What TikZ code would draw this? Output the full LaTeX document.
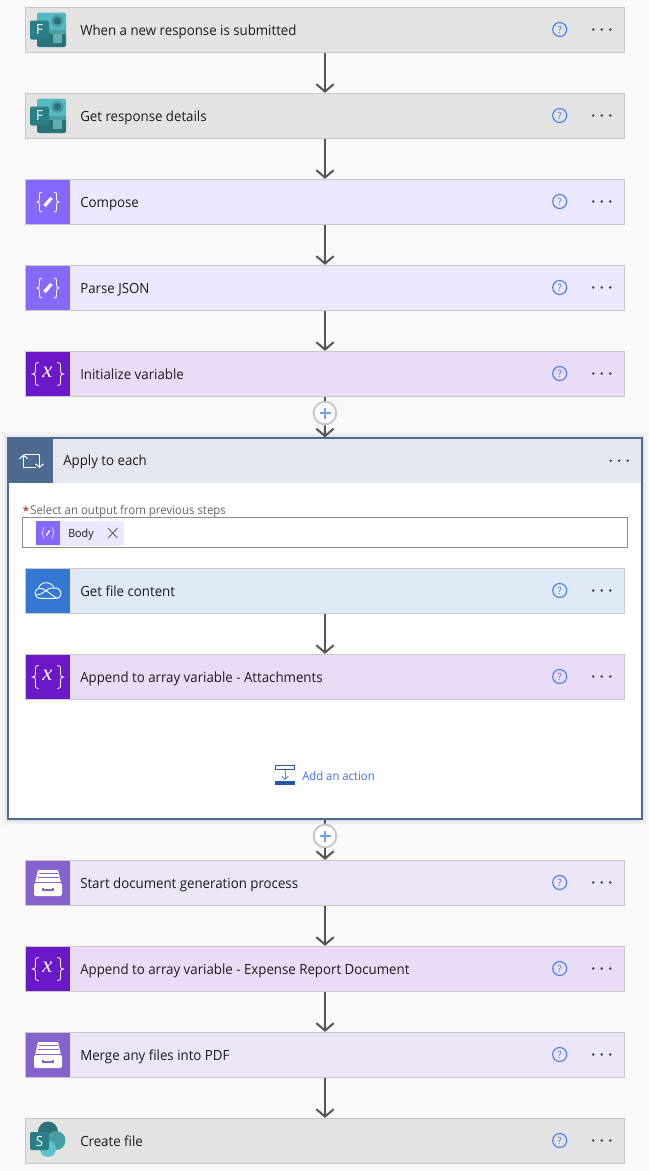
\documentclass[tikz,border=0pt]{standalone}
\usepackage{fontspec}
\setmainfont[FakeStretch=0.95]{Open Sans}
\newfontfamily\iconserif{Liberation Serif}
\usetikzlibrary{arrows.meta}
\definecolor{pagebg}{HTML}{F9F9F9}
\definecolor{cardline}{HTML}{C8C8C8}
\definecolor{flowline}{HTML}{555555}
\definecolor{ink}{HTML}{1B1B1B}
\definecolor{greyfill}{HTML}{E3E3E3}
\definecolor{composefill}{HTML}{ECE8FF}
\definecolor{composeicon}{HTML}{8668FC}
\definecolor{varfill}{HTML}{EADCF6}
\definecolor{varicon}{HTML}{6A18C8}
\definecolor{drivefill}{HTML}{E0E9F6}
\definecolor{driveicon}{HTML}{3478D2}
\definecolor{docfill}{HTML}{ECE5F7}
\definecolor{docicon}{HTML}{8662CC}
\definecolor{loopfill}{HTML}{E4E7ED}
\definecolor{loopblue}{HTML}{4E6A91}
\definecolor{helpblue}{HTML}{3F7BF0}
\definecolor{tealdark}{HTML}{2A7378}
\definecolor{tealmid}{HTML}{4A9DA3}
\definecolor{teallight}{HTML}{5EC4CC}
\definecolor{tealsq}{HTML}{2B8087}
\definecolor{plusblue}{HTML}{6FA0E8}
\definecolor{linkblue}{HTML}{3B70E8}
\definecolor{addblue}{HTML}{2457A8}
\definecolor{addarrow}{HTML}{5B8BD0}
\tikzset{
  x=0.75pt,y=-0.75pt,
  cardbox/.style={draw=cardline,line width=1pt,minimum width=449.25pt,minimum height=33.75pt,inner sep=0pt,rectangle},
  cardtext/.style={anchor=base west,inner sep=0pt,text=ink,font=\fontsize{10.48}{12}\selectfont},
  helpmark/.style={circle,draw=helpblue,line width=0.8pt,minimum size=10.5pt,inner sep=0pt,text=helpblue,font=\fontsize{7.5}{8}\selectfont},
  flow/.style={draw=flowline,line width=1.5pt,-{Straight Barb[length=5.5pt,width=13pt,line width=1.5pt]}},
  flowplain/.style={draw=flowline,line width=1.5pt},
  plusnode/.style={circle,draw=cardline,line width=1.5pt,fill=white,minimum size=17pt,inner sep=0pt},
  whiteline/.style={draw=white,line width=0.7pt,line join=round,line cap=round},
  bracepen/.style={draw=white,line width=0.6pt,line cap=round},
  looparrow/.style={draw=white,line width=0.9pt,-{Straight Barb[length=2.6pt,width=6pt,line width=0.8pt]}},
}
\newcommand{\threedots}[2]{%
  \fill[ink!85] (#1,#2) circle (1pt) (#1+8.5,#2) circle (1pt) (#1+17,#2) circle (1pt);}
% brace: spine x, top y, bottom y, arm (positive opens right, negative opens left)
\newcommand{\bracepath}[4]{%
  \draw[bracepen] (#1+#4,#2) .. controls (#1,#2) and (#1,#2+1) .. (#1,#2+3)
    -- (#1,{(#2+#3)/2-3}) .. controls (#1,{(#2+#3)/2-1}) and (#1-0.3*#4,{(#2+#3)/2}) .. (#1-#4,{(#2+#3)/2})
    .. controls (#1-0.3*#4,{(#2+#3)/2}) and (#1,{(#2+#3)/2+1}) .. (#1,{(#2+#3)/2+3})
    -- (#1,#3-3) .. controls (#1,#3-1) and (#1,#3) .. (#1+#4,#3);}
% icons: local origin at the card's top edge, absolute x
\newcommand{\iconforms}{%
  \fill[teallight!85!tealdark,rounded corners=1.5pt] (37,4.7) rectangle (66,25);
  \fill[tealdark,rounded corners=1.5pt] (37,22) rectangle (66,39);
  \fill[tealmid] (37,22) rectangle (66,26);
  \fill[tealmid] (57.3,12.8) circle (6.2*0.75pt);
  \fill[tealdark] (57.3,12.8) circle (3.8*0.75pt);
  \fill[tealmid!85!white] (52.5,25.5) rectangle (62,34.5);
  \fill[tealsq,rounded corners=1pt] (30,12.5) rectangle (49,31.5);
  \node[inner sep=0pt,text=white,font=\fontsize{10.5}{12}\selectfont] at (39.5,22) {F};}
\newcommand{\iconcompose}{%
  \bracepath{39.5}{12}{32}{2.5}
  \bracepath{56.5}{12}{32}{-2.5}
  \draw[white,line width=2.5pt] (44.5,26) -- (51.5,18);
  \draw[composeicon,line width=0.3pt] (50,19.7) -- (51.2,20.9);}
\newcommand{\iconvar}{%
  \bracepath{35.5}{10.5}{33.5}{3}
  \bracepath{60.5}{10.5}{33.5}{-3}
  \node[inner sep=0pt,text=white,font=\iconserif\itshape\fontsize{17}{18}\selectfont] at (47.5,20) {x};}
\newcommand{\icondrive}{%
  \draw[whiteline] (38.5,19.5) .. controls (39,15.5) and (43,13.7) .. (46,13.7)
     .. controls (50,13.7) and (53,16) .. (54,19)
     .. controls (58,18.5) and (61,21) .. (61,24.5)
     .. controls (61,27.5) and (59,29.3) .. (56.5,29.3) -- (41,29.3)
     .. controls (37.5,29.3) and (35,27.5) .. (35,24.5)
     .. controls (35,22) and (36.5,20) .. (38.5,19.5)
     .. controls (41,19) and (43,19.5) .. (46,21.5) -- (56.5,29.3);
  \draw[whiteline] (54,19) .. controls (50,18.8) and (48,20) .. (46,21.5) -- (41,25) -- (35.5,26);}
\newcommand{\icondrawer}{%
  \fill[white] (38,9) -- (58,9) -- (61,22) -- (35,22) -- cycle;
  \draw[docicon,line width=0.7pt] (38.5,12.5) -- (57.5,12.5) (37.5,16) -- (58.5,16);
  \fill[white,rounded corners=1.5pt] (34,22) rectangle (62,35);
  \draw[docicon,line width=0.9pt] (34,21.8) -- (62,21.8);
  \draw[docicon,line width=0.9pt] (43,27) -- (43,29) -- (53,29) -- (53,27);}
\newcommand{\iconshare}{%
  \fill[tealdark] (48,12.5) circle (10*0.75pt);
  \fill[tealmid] (56,21.5) circle (9.5*0.75pt);
  \fill[teallight] (48,30) circle (8*0.75pt);
  \fill[tealsq,rounded corners=1pt] (30,13) rectangle (49,31);
  \node[inner sep=0pt,text=white,font=\fontsize{10.5}{12}\selectfont] at (39.5,22) {S};}
% card: name, top y, fill, icon fill, text, icon
\newcommand{\card}[6]{%
  \node[cardbox,fill=#3] (#1) at (325,#2+22) {};
  \begin{scope}[shift={(0,#2)}]
    \ifx#4\empty\else\fill[#4] (26,0) rectangle (70,44);\fi
    #6
    \node[cardtext] (#1t) at (80,27) {#5};
    \node[helpmark] (#1q) at (559.7,21.5) {?};
    \threedots{593.3}{21.5}
  \end{scope}}
\begin{document}
\begin{tikzpicture}
\useasboundingbox (0,0) rectangle (649,1171);
\fill[pagebg] (0,0) rectangle (649,1171);
% Upper sequence
\card{c1}{8}{greyfill}{\empty}{When a new response is submitted}{\iconforms}
\card{c2}{94}{greyfill}{\empty}{Get response details}{\iconforms}
\card{c3}{180}{composefill}{composeicon}{Compose}{\iconcompose}
\card{c4}{266}{composefill}{composeicon}{Parse JSON}{\iconcompose}
\card{c5}{352}{varfill}{varicon}{Initialize variable}{\iconvar}
% Apply-to-each shadow
\foreach \g/\o in {6/0.015,4.5/0.02,3/0.03,1.5/0.04}{
  \fill[black,opacity=\o] (8-\g,438.3-\g) rectangle (641.7+\g,819+\g);
}
\node[draw=loopblue,line width=1.5pt,fill=white,minimum width=475.3pt,minimum height=285.5pt,inner sep=0pt] (loop) at (324.85,628.65) {};
\fill[loopfill] (9,439.3) rectangle (640.7,483);
\fill[loopblue] (9,439.3) rectangle (53,483);
\draw[looparrow] (36,467.8) -- (23.5,467.8) -- (23.5,454.5);
\draw[looparrow] (23.5,454.5) -- (39.5,454.5) -- (39.5,468);
\node[cardtext] (looptitle) at (63,465.7) {Apply to each};
\threedots{610.7}{460.7}
% Select an output field
\node[anchor=base west,inner sep=0pt,text=red!75!black,font=\fontsize{9}{10}\selectfont] (star) at (22.5,515) {*};
\node[anchor=base west,inner sep=0pt,text=black!60,font=\fontsize{9.03}{10}\selectfont] (selecttext) at (30,514) {Select an output from previous steps};
\node[draw=black!45,line width=0.9pt,fill=white,minimum width=454pt,minimum height=22.5pt,inner sep=0pt] (field) at (325,532.3) {};
\fill[black,opacity=0.08] (37,522) rectangle (124.3,546);
\fill[composefill] (36,521) rectangle (123.3,545);
\fill[composeicon] (36,521) rectangle (60,545);
\draw[white,line width=0.4pt,line cap=round] (44,527.5) .. controls (42.8,527.5) and (43.3,532) .. (42,533) .. controls (43.3,534) and (42.8,538.5) .. (44,538.5);
\draw[white,line width=0.4pt,line cap=round] (52,527.5) .. controls (53.2,527.5) and (52.7,532) .. (54,533) .. controls (52.7,534) and (53.2,538.5) .. (52,538.5);
\draw[white,line width=1pt] (46.3,535.5) -- (49.7,530.5);
\node[anchor=base west,inner sep=0pt,text=ink,font=\fontsize{8.5}{10}\selectfont] (chiptext) at (68,537.7) {Body};
\draw[black!60,line width=0.7pt] (108,528) -- (117.5,538) (117.5,528) -- (108,538);
% Inner cards
\card{c6}{569}{drivefill}{driveicon}{Get file content}{\icondrive}
\card{c7}{655}{varfill}{varicon}{Append to array variable - Attachments}{\iconvar}
% Add an action
\draw[addblue,line width=0.8pt] (275.5,765.5) rectangle (294.5,769.5);
\fill[addblue] (275,781) rectangle (295,785);
\draw[addarrow,line width=0.6pt,-{Straight Barb[length=2.5pt,width=5pt,line width=0.6pt]}] (285,770) -- (285,780);
\node[anchor=base west,inner sep=0pt,text=linkblue,font=\fontsize{8.93}{10}\selectfont] (addaction) at (302,780) {Add an action};
% Lower sequence
\card{c8}{861}{docfill}{docicon}{Start document generation process}{\icondrawer}
\card{c9}{947}{varfill}{varicon}{Append to array variable - Expense Report Document}{\iconvar}
\card{c10}{1033}{docfill}{docicon}{Merge any files into PDF}{\icondrawer}
\card{c11}{1119}{greyfill}{\empty}{Create file}{\iconshare}
% Add-step buttons
\node[plusnode] (p1) at (325,413) {};
\node[plusnode] (p2) at (325,836) {};
\draw[plusblue,line width=0.9pt] (p1.center) +(-5.5,0) -- +(5.5,0) (p1.center) +(0,-5.5) -- +(0,5.5);
\draw[plusblue,line width=0.9pt] (p2.center) +(-5.5,0) -- +(5.5,0) (p2.center) +(0,-5.5) -- +(0,5.5);
% Connectors
\foreach \a/\b in {c1/c2,c2/c3,c3/c4,c4/c5,c6/c7,c8/c9,c9/c10,c10/c11}{
  \draw[flow] (\a) -- (\b);
}
\draw[flowplain] (c5) -- (p1);
\draw[flow] (p1) -- (loop);
\draw[flowplain] (loop) -- (p2);
\draw[flow] (p2) -- (c8);
\end{tikzpicture}
\end{document}
